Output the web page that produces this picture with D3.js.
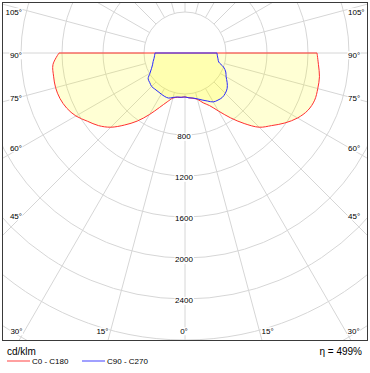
<!DOCTYPE html>
<html lang="en">
<head>
    <meta charset="UTF-8">
    <title>Polar LDC</title>
</head>
<style>
    body { margin: 0; background: #fff; }
    text { font-family: "Liberation Sans", Arial, sans-serif; fill: #000; }
    .grid { fill: none; stroke: #d6d6d6; stroke-width: 1px; }
    .area { fill: #ffff00; fill-opacity: 0.17; stroke: none; }
</style>
<body>
<svg width="370" height="373"></svg>
<script src="https://d3js.org/d3.v7.min.js"></script>
<script>
    // gamma angles (deg from nadir) for each half plane
    var gammas = [0, 5, 10, 15, 20, 25, 30, 35, 40, 45, 50, 55, 60, 65, 70, 75, 80, 85, 90];
    // intensities in cd/klm
    var c0   = [429, 439, 449, 468, 517, 566, 654, 771, 898, 1024, 1102, 1190, 1268, 1323, 1346, 1341, 1332, 1307, 1288];
    var c180 = [429, 434, 439, 455, 507, 585, 693, 810, 917, 1024, 1102, 1161, 1229, 1273, 1298, 1307, 1302, 1293, 1229];
    var c90  = [429, 439, 446, 463, 488, 517, 551, 561, 566, 556, 537, 502, 463, 439, 400, 341, 327, 317, 312];
    var c270 = [429, 434, 436, 449, 468, 468, 463, 459, 459, 461, 449, 439, 395, 361, 337, 322, 307, 298, 293];
    var ringValues = [400, 800, 1200, 1600, 2000, 2400, 2800, 3200, 3600];
    var ringLabels = [800, 1200, 1600, 2000, 2400];
    var spokeAngles = d3.range(0, 360, 15);
    var sideLabels = [30, 45, 60, 75, 90, 105];
    var bottomLabels = [15, 0];
    var legendItems = ["C0 - C180", "C90 - C270"];
    var efficiency = "\u03b7 = 499%";
    var unit = "cd/klm";

    var svg = d3.select("svg"),
        frame = {x0: 2.5, y0: 2.5, x1: 367.5, y1: 340.5},
        cx = 185, cy = 53,
        inner = {left: 24, right: 346, top: 3, bottom: 331};

    var r = d3.scaleLinear().domain([0, 400]).range([0, 41]);
    var rad = Math.PI / 180;

    svg.append("defs").append("clipPath").attr("id", "clip")
        .append("rect")
        .attr("x", frame.x0).attr("y", frame.y0)
        .attr("width", frame.x1 - frame.x0).attr("height", frame.y1 - frame.y0);

    var plot = svg.append("g").attr("clip-path", "url(#clip)");
    var g = plot.append("g").attr("transform", "translate(" + cx + "," + cy + ")");

    // rings
    g.selectAll(".ring").data(ringValues).enter().append("circle")
        .attr("class", "grid")
        .attr("r", function (d) { return r(d); });

    // spokes, start from first ring
    g.selectAll(".spoke").data(spokeAngles).enter().append("line")
        .attr("class", "grid")
        .attr("x1", function (d) { return r(ringValues[0]) * Math.sin(d * rad); })
        .attr("y1", function (d) { return r(ringValues[0]) * Math.cos(d * rad); })
        .attr("x2", function (d) { return r(4000) * Math.sin(d * rad); })
        .attr("y2", function (d) { return r(4000) * Math.cos(d * rad); });

    // build a plane: left half from 90 down to 0, then right half 0 up to 90
    function plane(left, right) {
        var pts = [];
        for (var i = gammas.length - 1; i >= 0; i--) pts.push({a: Math.PI + gammas[i] * rad, v: left[i]});
        for (var j = 1; j < gammas.length; j++) pts.push({a: Math.PI - gammas[j] * rad, v: right[j]});
        return pts;
    }
    var curve = d3.lineRadial()
        .angle(function (d) { return d.a; })
        .radius(function (d) { return r(d.v); })
        .curve(d3.curveCatmullRom);

    var planes = [
        {pts: plane(c180, c0), color: "#ff3030"},
        {pts: plane(c270, c90), color: "#2a2aff"}
    ];
    g.selectAll(".area").data(planes).enter().append("path")
        .attr("class", "area")
        .attr("d", function (d) { return curve(d.pts) + "Z"; });
    g.selectAll(".outline").data(planes).enter().append("path")
        .attr("fill", "none")
        .attr("stroke", function (d) { return d.color; })
        .attr("stroke-width", 1)
        .attr("d", function (d) { return curve(d.pts) + "Z"; });

    // labels with white boxes
    var labels = svg.append("g");
    function boxed(x, y, txt, anchor) {
        var t = labels.append("text")
            .attr("x", x).attr("y", y).attr("dy", "0.35em")
            .attr("text-anchor", anchor)
            .style("font-size", "8px")
            .text(txt);
        var b = t.node().getBBox();
        labels.insert("rect", "text:last-child")
            .attr("x", b.x - 0.5).attr("y", b.y + 0.5)
            .attr("width", b.width + 1).attr("height", b.height - 1)
            .attr("fill", "#fff");
    }
    ringLabels.forEach(function (v) { boxed(cx - 1, cy + r(v) + 1.5, v, "middle"); });

    // angle labels where the spoke meets the inner box
    function hit(gam, side) {
        var dx = side * Math.sin(gam * rad), dy = Math.cos(gam * rad);
        var tx = Math.abs(dx) < 1e-9 ? Infinity : ((side < 0 ? inner.left : inner.right) - cx) / dx;
        var ty = Math.abs(dy) < 1e-9 ? Infinity : ((dy > 0 ? inner.bottom : inner.top) - cy) / dy;
        var t = Math.min(tx, ty);
        return {x: cx + dx * t, y: cy + dy * t, bottom: dy > 0 && ty < tx};
    }
    [-1, 1].forEach(function (side) {
        sideLabels.concat(bottomLabels).forEach(function (gam) {
            if (gam === 0 && side > 0) return;
            var p = hit(gam, side);
            var anchor = gam === 0 ? "middle" : (side < 0 ? "end" : "start");
            var x = gam === 0 ? p.x - 1 : p.x + side * 2;
            var y = p.bottom ? inner.bottom : p.y + 2;
            boxed(x, y, gam + "\u00b0", anchor);
        });
    });

    // frame
    svg.append("rect")
        .attr("x", frame.x0).attr("y", frame.y0)
        .attr("width", frame.x1 - frame.x0).attr("height", frame.y1 - frame.y0)
        .attr("fill", "none").attr("stroke", "#3a3a3a");

    // footer
    svg.append("text").attr("x", 7).attr("y", 355).style("font-size", "10px").text(unit);
    svg.append("text").attr("x", 362).attr("y", 355).attr("text-anchor", "end")
        .style("font-size", "10px").text(efficiency);

    var legend = svg.selectAll(".legend").data(legendItems).enter().append("g")
        .attr("transform", function (d, i) { return "translate(" + (7 + i * 75) + ",361)"; });
    legend.append("line")
        .attr("x1", 0).attr("x2", 23).attr("y1", 0).attr("y2", 0)
        .attr("stroke", function (d, i) { return i ? "#a0a0ff" : "#ffa0a0"; })
        .attr("stroke-width", 2);
    legend.append("text").attr("x", 25).attr("y", 3)
        .style("font-size", "8px").text(function (d) { return d; });
</script>
</body>
</html>
